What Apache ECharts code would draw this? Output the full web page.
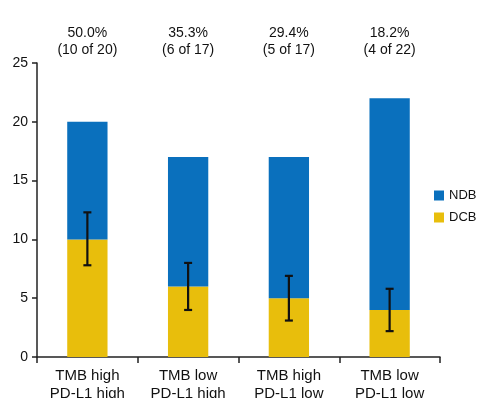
<!DOCTYPE html>
<html>
<head>
<meta charset="utf-8">
<script src="https://cdn.jsdelivr.net/npm/echarts@6/dist/echarts.min.js"></script>
<style>
  html, body { margin: 0; padding: 0; background: #fff; }
  #chart { width: 481px; height: 398px; }
</style>
</head>
<body>
<div id="chart"></div>
<script>
// data
var categories = ['TMB high\nPD-L1 high', 'TMB low\nPD-L1 high', 'TMB high\nPD-L1 low', 'TMB low\nPD-L1 low'];
var dcb = [10, 6, 5, 4];
var ndb = [10, 11, 12, 18];
var errLow = [7.8, 4.0, 3.1, 2.2];
var errHigh = [12.3, 8.0, 6.9, 5.8];
var topLabels = ['50.0%\n(10 of 20)', '35.3%\n(6 of 17)', '29.4%\n(5 of 17)', '18.2%\n(4 of 22)'];
var yTicks = [0, 5, 10, 15, 20, 25];

var chart = echarts.init(document.getElementById('chart'));
var font = 'Liberation Sans, Arial, sans-serif';

var errData = [];
for (var i = 0; i < categories.length; i++) {
  errData.push([i, errLow[i], errHigh[i]]);
}

var option = {
  animation: false,
  textStyle: { fontFamily: font },
  grid: { left: 37, right: 41, top: 63, bottom: 41, outerBoundsMode: 'none', containLabel: false },
  legend: {
    data: ['NDB', 'DCB'],
    orient: 'vertical',
    left: 429,
    top: 184,
    icon: 'rect',
    itemWidth: 10,
    itemHeight: 10,
    itemGap: 9,
    textStyle: { fontSize: 13, color: '#111', fontFamily: font }
  },
  xAxis: [
    {
      type: 'category',
      data: categories,
      axisLine: { lineStyle: { color: '#222', width: 1.5 } },
      axisTick: { show: true, length: 6, lineStyle: { color: '#222', width: 1.5 } },
      axisLabel: { color: '#111', fontSize: 15, lineHeight: 18, margin: 10, fontFamily: font }
    },
    {
      type: 'category',
      position: 'top',
      data: topLabels,
      axisLine: { show: false },
      axisTick: { show: false },
      axisLabel: { color: '#111', fontSize: 14, lineHeight: 17, margin: 4, fontFamily: font }
    }
  ],
  yAxis: {
    type: 'value',
    min: 0,
    max: 25,
    interval: 5,
    splitLine: { show: false },
    axisLine: { show: true, lineStyle: { color: '#222', width: 1.5 } },
    axisTick: { show: true, length: 5, lineStyle: { color: '#222', width: 1.5 } },
    axisLabel: {
      color: '#111', fontSize: 14, margin: 9, fontFamily: font,
      formatter: function (v) { return yTicks.indexOf(v) >= 0 ? String(v) : ''; }
    }
  },
  series: [
    {
      name: 'DCB',
      type: 'bar',
      stack: 'total',
      barWidth: '40%',
      itemStyle: { color: '#e8be0c' },
      data: dcb
    },
    {
      name: 'NDB',
      type: 'bar',
      stack: 'total',
      barWidth: '40%',
      itemStyle: { color: '#0a70bd' },
      data: ndb
    },
    {
      name: 'err',
      type: 'custom',
      z: 10,
      renderItem: function (params, api) {
        var x = api.value(0);
        var lo = api.coord([x, api.value(1)]);
        var hi = api.coord([x, api.value(2)]);
        var half = 4;
        var st = { stroke: '#111', lineWidth: 2.2 };
        return {
          type: 'group',
          children: [
            { type: 'line', shape: { x1: lo[0], y1: lo[1], x2: hi[0], y2: hi[1] }, style: st },
            { type: 'line', shape: { x1: lo[0] - half, y1: lo[1], x2: lo[0] + half, y2: lo[1] }, style: st },
            { type: 'line', shape: { x1: hi[0] - half, y1: hi[1], x2: hi[0] + half, y2: hi[1] }, style: st }
          ]
        };
      },
      encode: { x: 0, y: [1, 2] },
      data: errData
    }
  ]
};

chart.setOption(option);
</script>
</body>
</html>
